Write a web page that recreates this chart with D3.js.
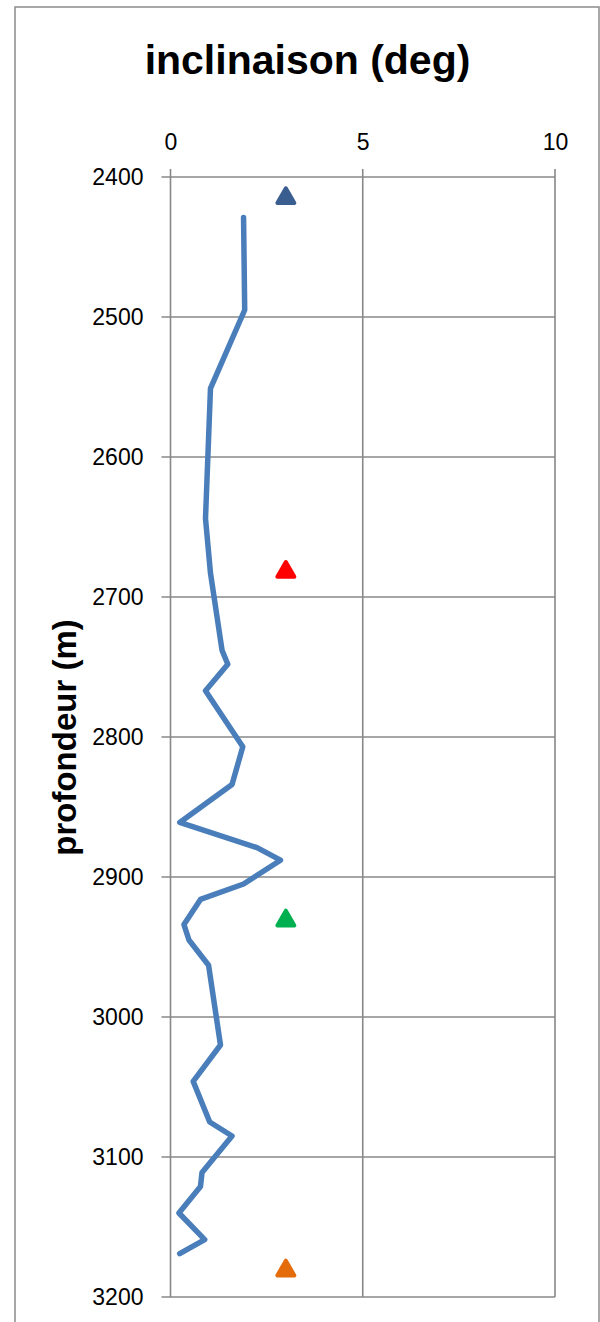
<!DOCTYPE html>
<html><head><meta charset="utf-8">
<script src="https://cdn.jsdelivr.net/npm/d3@7"></script>
<style>body{margin:0;background:#fff}svg{display:block}</style>
</head><body>
<script>
// Data
const depth = [2429,2495,2551,2644,2683,2738,2748,2767,2807,2834,2861,2879,2888,2905,2916,2934,2945,2963,3020,3046,3075,3085,3111,3121,3140,3159,3169];
const inclination = [1.90,1.93,1.04,0.91,1.04,1.34,1.49,0.91,1.88,1.60,0.24,2.25,2.86,1.90,0.78,0.35,0.48,0.99,1.30,0.59,1.02,1.60,0.82,0.78,0.22,0.89,0.24];
const markerDepth = [2414,2681,2930,3180];
const markerValue = [3,3,3,3];
const markerColor = ["#3B5E91","#FF0000","#00B050","#E46C0A"];
const xTicks = [0,5,10];
const yTicks = [2400,2500,2600,2700,2800,2900,3000,3100,3200];
const title = "inclinaison (deg)";
const yLabel = "profondeur (m)";

const W = 600, H = 1322;
const svg = d3.select("body").append("svg").attr("width", W).attr("height", H);
svg.append("rect").attr("x",15).attr("y",7).attr("width",584).attr("height",H+20)
  .attr("fill","#fff").attr("stroke","#8c8c8c").attr("stroke-width",1.5);

const x = d3.scaleLinear().domain([0,10]).range([170.5,555]);
const y = d3.scaleLinear().domain([2400,3200]).range([177,1297]);

const gridColor = "#888";
svg.append("g").selectAll("line").data(yTicks).join("line")
  .attr("x1", x(0)-9).attr("x2", x(10)).attr("y1", d=>y(d)).attr("y2", d=>y(d))
  .attr("stroke", gridColor).attr("stroke-width", 1.6);
svg.append("g").selectAll("line").data(xTicks).join("line")
  .attr("y1", y(2400)-8).attr("y2", y(3200)).attr("x1", d=>x(d)).attr("x2", d=>x(d))
  .attr("stroke", gridColor).attr("stroke-width", 1.6);

const font = "'Liberation Sans', Arial, sans-serif";
const ax = svg.append("g").attr("transform",`translate(0,${y(2400)})`)
  .call(d3.axisTop(x).tickValues(xTicks).tickFormat(d3.format("d")).tickSize(0).tickPadding(27));
ax.select(".domain").remove();
ax.selectAll("text").attr("font-family",font).attr("font-size",23).attr("fill","#000");

const ay = svg.append("g").attr("transform",`translate(${x(0)},0)`)
  .call(d3.axisLeft(y).tickValues(yTicks).tickFormat(d3.format("d")).tickSize(0).tickPadding(27));
ay.select(".domain").remove();
ay.selectAll("text").attr("font-family",font).attr("font-size",23).attr("fill","#000");

const line = d3.line().x(d=>x(d[0])).y(d=>y(d[1]));
svg.append("path").datum(inclination.map((v,i)=>[v,depth[i]]))
  .attr("d", line).attr("fill","none").attr("stroke","#4A7EBB")
  .attr("stroke-width",5.5).attr("stroke-linejoin","round").attr("stroke-linecap","round");

const tri = d3.symbol().type(d3.symbolTriangle).size(125);
svg.append("g").selectAll("path").data(markerDepth).join("path")
  .attr("d", tri)
  .attr("transform",(d,i)=>`translate(${x(markerValue[i])},${y(d)+1.5})`)
  .attr("fill",(d,i)=>markerColor[i]).attr("stroke",(d,i)=>markerColor[i])
  .attr("stroke-width",4).attr("stroke-linejoin","round");

svg.append("text").attr("x",307.5).attr("y",74).attr("text-anchor","middle")
  .attr("font-family",font).attr("font-weight","bold")
  .attr("font-size",41).attr("fill","#000").text(title);

svg.append("text").attr("transform","translate(76,737.5) rotate(-90)").attr("text-anchor","middle")
  .attr("font-family",font).attr("font-weight","bold")
  .attr("font-size",33).attr("fill","#000").text(yLabel);
</script>
</body></html>
